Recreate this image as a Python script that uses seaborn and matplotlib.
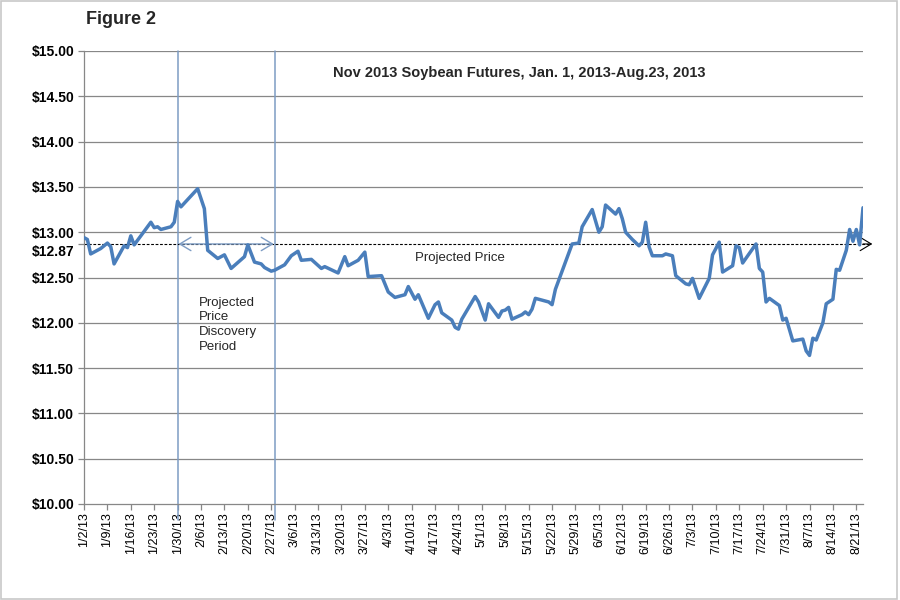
import matplotlib
matplotlib.use("Agg")
import pandas as pd
import seaborn as sns
import matplotlib.pyplot as plt
import matplotlib.transforms as mtransforms
from matplotlib.patches import Rectangle

# ---- data ----
dates = ["1/2", "1/3", "1/4", "1/7", "1/9", "1/10", "1/11", "1/14", "1/15", "1/16", "1/17",
         "1/22", "1/23", "1/24", "1/25", "1/28", "1/29", "1/30", "1/31", "2/5", "2/7", "2/8",
         "2/11", "2/13", "2/15", "2/19", "2/20", "2/22", "2/24", "2/25", "2/27", "2/28",
         "3/3", "3/5", "3/7", "3/8", "3/11", "3/14", "3/15", "3/19", "3/21", "3/22", "3/25",
         "3/27", "3/28", "4/1", "4/3", "4/5", "4/8", "4/9", "4/11", "4/12", "4/15", "4/17",
         "4/18", "4/19", "4/22", "4/23", "4/24", "4/25", "4/29", "4/30", "5/2", "5/3", "5/6",
         "5/7", "5/8", "5/9", "5/10", "5/13", "5/14", "5/15", "5/16", "5/17", "5/21", "5/22",
         "5/23", "5/24", "5/28", "5/30", "5/31", "6/3", "6/5", "6/6", "6/7", "6/10", "6/11",
         "6/12", "6/13", "6/15", "6/17", "6/18", "6/19", "6/20", "6/21", "6/24", "6/25",
         "6/27", "6/28", "7/1", "7/2", "7/3", "7/5", "7/8", "7/9", "7/11", "7/12", "7/15",
         "7/16", "7/17", "7/18", "7/22", "7/23", "7/24", "7/25", "7/26", "7/29", "7/30",
         "7/31", "8/2", "8/5", "8/6", "8/7", "8/8", "8/9", "8/11", "8/12", "8/14", "8/15",
         "8/16", "8/18", "8/19", "8/20", "8/21", "8/22", "8/23"]
prices = [12.94, 12.92, 12.76, 12.82, 12.88, 12.84, 12.65, 12.85, 12.83, 12.96, 12.86,
          13.11, 13.05, 13.06, 13.03, 13.06, 13.11, 13.34, 13.28, 13.48, 13.26, 12.80,
          12.71, 12.75, 12.60, 12.73, 12.86, 12.67, 12.65, 12.61, 12.57, 12.58,
          12.64, 12.74, 12.79, 12.69, 12.70, 12.60, 12.62, 12.55, 12.73, 12.63, 12.69,
          12.78, 12.51, 12.52, 12.34, 12.28, 12.31, 12.40, 12.26, 12.31, 12.05, 12.20,
          12.23, 12.11, 12.03, 11.95, 11.93, 12.04, 12.29, 12.23, 12.03, 12.21, 12.06,
          12.13, 12.14, 12.17, 12.04, 12.09, 12.12, 12.09, 12.15, 12.27, 12.23, 12.20,
          12.37, 12.47, 12.87, 12.88, 13.06, 13.25, 13.00, 13.06, 13.30, 13.20, 13.26,
          13.15, 13.00, 12.92, 12.85, 12.89, 13.11, 12.84, 12.74, 12.74, 12.76,
          12.74, 12.52, 12.43, 12.42, 12.49, 12.27, 12.49, 12.75, 12.89, 12.56, 12.63,
          12.85, 12.83, 12.66, 12.87, 12.60, 12.56, 12.23, 12.27, 12.19, 12.03,
          12.05, 11.80, 11.82, 11.69, 11.64, 11.83, 11.81, 12.00, 12.21, 12.26, 12.59,
          12.58, 12.80, 13.03, 12.90, 13.03, 12.86, 13.27]
projected_price = 12.87
discovery_start = "1/30"
discovery_end = "2/28"
xtick_dates = ["1/2", "1/9", "1/16", "1/23", "1/30", "2/6", "2/13", "2/20", "2/27", "3/6",
               "3/13", "3/20", "3/27", "4/3", "4/10", "4/17", "4/24", "5/1", "5/8", "5/15",
               "5/22", "5/29", "6/5", "6/12", "6/19", "6/26", "7/3", "7/10", "7/17", "7/24",
               "7/31", "8/7", "8/14", "8/21"]
xtick_labels = [d + "/13" for d in xtick_dates]
ytick_values = [10.0, 10.5, 11.0, 11.5, 12.0, 12.5, 12.87, 13.0, 13.5, 14.0, 14.5, 15.0]
ytick_labels = ["$10.00", "$10.50", "$11.00", "$11.50", "$12.00", "$12.50", "$12.87",
                "$13.00", "$13.50", "$14.00", "$14.50", "$15.00"]


def to_date(s):
    return pd.to_datetime(s + "/2013", format="%m/%d/%Y")


df = pd.DataFrame({"date": [to_date(d) for d in dates], "price": prices})

sns.set_theme(style="white")
plt.rcParams["font.family"] = ["Liberation Sans", "DejaVu Sans"]

fig = plt.figure(figsize=(9, 6), dpi=100)
fig.patch.set_facecolor("white")
fig.patches.append(Rectangle((0.001, 0.002), 0.996, 0.996, transform=fig.transFigure,
                             fill=False, edgecolor="#c8c8c8", lw=1.2))

ax = fig.add_axes([84 / 900, 96 / 600, 779 / 900, 453 / 600])
grid_c = "#878787"
blue_line = "#7d9cc4"

# horizontal gridlines
for v in [10.5, 11.0, 11.5, 12.0, 12.5, 13.0, 13.5, 14.0, 14.5, 15.0]:
    ax.axhline(v, color=grid_c, lw=0.9, zorder=0)

# discovery period vertical lines
for d in [discovery_start, discovery_end]:
    ax.plot([to_date(d)] * 2, [-0.035, 1.0], transform=ax.get_xaxis_transform(),
            color=blue_line, lw=1.1, clip_on=False, zorder=1)

# projected price dashed line with arrowhead
ax.plot([0, 1.008], [projected_price] * 2, transform=ax.get_yaxis_transform(),
        color="black", lw=0.8, ls=(0, (2.5, 1.5)), clip_on=False, zorder=2)
ax.annotate("", xy=(1.012, projected_price), xytext=(1.0, projected_price),
            xycoords=ax.get_yaxis_transform(), textcoords=ax.get_yaxis_transform(),
            arrowprops=dict(arrowstyle="->,head_length=0.5,head_width=0.3", color="black",
                            lw=0.8, mutation_scale=16, shrinkA=0, shrinkB=0),
            annotation_clip=False)
# discovery arrow
ax.annotate("", xy=(to_date(discovery_end) - pd.Timedelta(hours=6), projected_price),
            xytext=(to_date(discovery_start) + pd.Timedelta(hours=6), projected_price),
            arrowprops=dict(arrowstyle="<->,head_length=0.5,head_width=0.3",
                            color=blue_line, lw=1.0, mutation_scale=16,
                            shrinkA=0, shrinkB=0), zorder=3)

sns.lineplot(data=df, x="date", y="price", ax=ax, color="#4a7ebb", lw=2.5, zorder=4)

ax.set_xlim(to_date("1/2"), to_date("8/23"))
ax.set_ylim(10, 15)
ax.set_xlabel("")
ax.set_ylabel("")

ax.set_xticks([to_date(d) for d in xtick_dates])
ax.set_xticklabels(xtick_labels, rotation=90, fontsize=9, color="black")
ax.set_yticks(ytick_values)
ax.set_yticklabels(ytick_labels, fontsize=10, fontweight="bold", color="black")
ax.tick_params(axis="x", direction="out", length=4, width=0.9, color=grid_c, pad=2, bottom=True)
ax.tick_params(axis="y", direction="out", length=4, width=0.9, color=grid_c, pad=3, left=True)

# nudge the $12.87 label down slightly so it does not collide with $13.00
for lbl in ax.get_yticklabels():
    if lbl.get_text() == "$12.87":
        lbl.set_transform(lbl.get_transform() +
                          mtransforms.ScaledTranslation(0, -5 / 72, fig.dpi_scale_trans))

for side in ["top", "right"]:
    ax.spines[side].set_visible(False)
for side in ["left", "bottom"]:
    ax.spines[side].set_color(grid_c)
    ax.spines[side].set_linewidth(0.9)

# texts
fig.text(86 / 900, 1 - 20 / 600, "Figure 2", fontsize=13, fontweight="bold",
         ha="left", va="center")
fig.text(519 / 900, 1 - 73 / 600, "Nov 2013 Soybean Futures, Jan. 1, 2013-Aug.23, 2013",
         fontsize=10.5, fontweight="bold", ha="center", va="center")
ax.text(to_date("4/11"), 12.72, "Projected Price", fontsize=9.5, ha="left", va="center")
ax.text(to_date("2/5") + pd.Timedelta(hours=12), 12.29,
        "Projected\nPrice\nDiscovery\nPeriod", fontsize=9.5, ha="left", va="top",
        linespacing=1.3)

fig.savefig("out.png", dpi=100, facecolor="white")
